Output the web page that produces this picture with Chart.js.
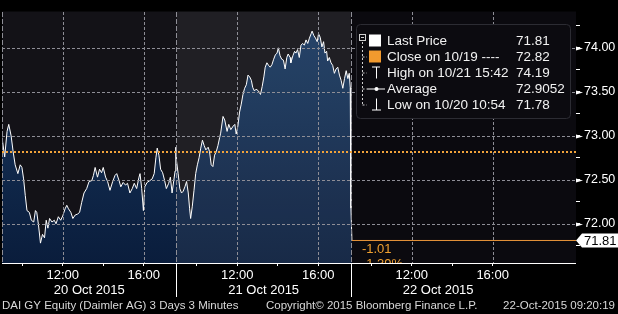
<!DOCTYPE html>
<html>
<head>
<meta charset="utf-8">
<script src="https://cdn.jsdelivr.net/npm/chart.js@4.4.1/dist/chart.umd.min.js"></script>
<style>
  html, body { margin: 0; padding: 0; background: #000; }
  canvas { display: block; }
</style>
</head>
<body>
<canvas id="graph" width="618" height="314"></canvas>
<script>
// one trading session on the axis, 09:00 to about 17:37, in minutes
const DAY_LEN = 517;

const dayLabels = ['20 Oct 2015', '21 Oct 2015', '22 Oct 2015'];
const tickTimes = ['10:00', '12:00', '14:00', '16:00'];
const labeledTimes = ['12:00', '16:00'];
const gridTimes = ['09:00', '12:00', '16:00'];
const priceTicks = [71.75, 72.00, 72.25, 72.50, 72.75, 73.00, 73.25, 73.50, 73.75, 74.00, 74.25];
const gridPrices = [72.00, 72.50, 73.00, 73.50, 74.00];

const day1Times = ['09:00','09:08','09:15','09:20','09:27','09:33','09:39','09:47','09:54','09:59',
  '10:04','10:09','10:14','10:21','10:27','10:34','10:39','10:43','10:48','10:54',
  '11:00','11:06','11:11','11:16','11:21','11:28','11:35','11:40','11:47','11:54',
  '12:00','12:07','12:12','12:17','12:24','12:30','12:37','12:44','12:50','12:56',
  '13:03','13:11','13:18','13:26','13:31','13:36','13:43','13:49','13:55','14:00',
  '14:07','14:13','14:20','14:28','14:35','14:40','14:47','14:52','14:59','15:06',
  '15:12','15:19','15:26','15:32','15:39','15:46','15:49','15:54','15:59','16:03',
  '16:10','16:18','16:25','16:31','16:36','16:40','16:45','16:50','16:56','17:02',
  '17:07','17:14','17:19','17:24','17:29','17:33','17:35'];
const day1Prices = [72.98,72.76,73.05,73.13,73.00,72.82,72.67,72.57,72.67,72.64,
  72.51,72.32,72.15,72.13,72.04,72.02,72.15,72.13,71.99,71.78,
  71.88,71.84,72.04,71.95,72.06,72.02,72.04,72.00,72.08,72.04,
  72.09,72.17,72.21,72.17,72.13,72.06,72.10,72.11,72.13,72.24,
  72.35,72.40,72.48,72.49,72.55,72.64,72.53,72.62,72.58,72.64,
  72.53,72.48,72.38,72.48,72.55,72.57,72.49,72.42,72.47,72.44,
  72.46,72.35,72.40,72.46,72.40,72.53,72.57,72.40,72.15,72.42,
  72.47,72.49,72.51,72.57,72.75,72.86,72.78,72.62,72.58,72.49,
  72.40,72.46,72.53,72.35,72.49,72.60,72.87];

const day2Times = ['09:00','09:05','09:10','09:15','09:20','09:25','09:30','09:35','09:39','09:42',
  '09:47','09:52','09:57','10:02','10:07','10:12','10:17','10:22','10:27','10:34',
  '10:38','10:43','10:48','10:53','10:58','11:03','11:08','11:11','11:18','11:23',
  '11:30','11:35','11:41','11:48','11:53','11:57','12:02','12:07','12:12','12:17',
  '12:22','12:27','12:32','12:37','12:42','12:46','12:51','12:56','13:03','13:09',
  '13:14','13:19','13:23','13:28','13:33','13:38','13:43','13:48','13:53','13:58',
  '14:02','14:07','14:12','14:17','14:22','14:27','14:31','14:37','14:39','14:45',
  '14:50','14:54','14:59','15:04','15:09','15:14','15:19','15:24','15:29','15:34',
  '15:39','15:42','15:47','15:52','15:57','16:01','16:06','16:11','16:16','16:20',
  '16:25','16:28','16:33','16:38','16:43','16:48','16:53','16:58','17:03','17:08',
  '17:13','17:18','17:23','17:28','17:32','17:35'];
const day2Prices = [72.72,72.57,72.40,72.35,72.37,72.42,72.48,72.35,72.17,72.06,
  72.20,72.38,72.57,72.67,72.75,72.86,72.95,72.89,72.84,72.87,
  72.82,72.67,72.65,72.78,72.82,72.89,72.98,73.03,73.22,73.18,
  73.05,73.13,73.07,73.11,73.13,73.02,73.11,73.27,73.36,73.47,
  73.54,73.58,73.69,73.67,73.63,73.55,73.51,73.53,73.51,73.47,
  73.56,73.67,73.78,73.83,73.80,73.78,73.81,73.87,73.92,73.94,
  74.00,73.91,73.87,73.86,73.76,73.89,73.93,73.89,73.83,73.91,
  73.96,73.94,73.98,73.89,74.03,74.05,74.03,74.09,74.05,74.11,
  74.16,74.19,74.14,74.11,74.07,74.16,74.12,74.01,74.07,73.94,
  73.96,73.85,73.89,73.83,73.80,73.71,73.76,73.78,73.69,73.63,
  73.54,73.65,73.74,73.65,73.71,73.55];

const day3Times = ['09:00', '09:03'];
const day3Prices = [72.18, 71.81];

const closePrice = 72.82;
const lastPrice = 71.81;

const legendLabels = ['Last Price', 'Close on 10/19 ----', 'High on 10/21 15:42', 'Average', 'Low on 10/20 10:54'];
const legendValues = ['71.81', '72.82', '74.19', '72.9052', '71.78'];

const footerLeft = 'DAI GY Equity (Daimler AG) 3 Days 3 Minutes';
const footerMid = 'Copyright\u00A9 2015 Bloomberg Finance L.P.';
const footerRight = '22-Oct-2015 09:20:19';

const FONT = '"Liberation Sans", Arial, sans-serif';
const GRID = '#8e8e96';

const mins = t => { const [h, m] = t.split(':').map(Number); return (h - 9) * 60 + m; };
const inDay = v => ((Math.round(v) % DAY_LEN) + DAY_LEN) % DAY_LEN;
const isLabeledPrice = v => Math.round(v * 100) % 50 === 0;

const pricePoints = [];
[[day1Times, day1Prices], [day2Times, day2Prices], [day3Times, day3Prices]].forEach(([times, prices], d) => {
    times.forEach((t, i) => pricePoints.push({ x: d * DAY_LEN + mins(t), y: prices[i] }));
});

const X_MAX = 3 * DAY_LEN + 150;
const lastX = pricePoints[pricePoints.length - 1].x;
const change = lastPrice - closePrice;
const changePct = change / closePrice * 100;

const tickMins = tickTimes.map(mins);
const gridMins = gridTimes.map(mins);

const drawLegend = (ctx) => {
    const bx = 356, by = 24, bw = 214, bh = 94;
    ctx.save();
    ctx.fillStyle = '#0c0b10';
    ctx.strokeStyle = '#2c2c33';
    ctx.lineWidth = 1;
    ctx.beginPath();
    ctx.roundRect(bx + 0.5, by + 0.5, bw, bh, 4);
    ctx.fill();
    ctx.stroke();

    const rowY = i => 40.5 + i * 16;
    // tree lines
    ctx.strokeStyle = '#d0d0d0';
    ctx.strokeRect(359.5, 34.5, 6, 6);
    ctx.beginPath();
    ctx.moveTo(361, 37.5); ctx.lineTo(364, 37.5);
    ctx.stroke();
    ctx.setLineDash([2, 2]);
    ctx.beginPath();
    ctx.moveTo(362.5, 42); ctx.lineTo(362.5, rowY(4));
    for (let i = 1; i < 5; i++) { ctx.moveTo(362.5, rowY(i) + 0.5); ctx.lineTo(367, rowY(i) + 0.5); }
    ctx.stroke();
    ctx.setLineDash([]);

    // icons
    ctx.fillStyle = '#ffffff';
    ctx.fillRect(369, rowY(0) - 6, 12, 12);
    ctx.fillStyle = '#f29a2e';
    ctx.fillRect(369, rowY(1) - 6, 12, 12);
    ctx.strokeStyle = '#ffffff';
    ctx.beginPath();
    let y = rowY(2);
    ctx.moveTo(372, y - 5.5); ctx.lineTo(380, y - 5.5);
    ctx.moveTo(376.5, y - 5.5); ctx.lineTo(376.5, y + 6);
    y = rowY(3);
    ctx.moveTo(367, y + 0.5); ctx.lineTo(385, y + 0.5);
    y = rowY(4);
    ctx.moveTo(376.5, y - 6); ctx.lineTo(376.5, y + 5.5);
    ctx.moveTo(372, y + 5.5); ctx.lineTo(381, y + 5.5);
    ctx.stroke();
    ctx.beginPath();
    ctx.arc(376.5, rowY(3) + 0.5, 2, 0, Math.PI * 2);
    ctx.fillStyle = '#ffffff';
    ctx.fill();

    ctx.font = '13.5px ' + FONT;
    ctx.textBaseline = 'middle';
    ctx.fillStyle = '#f2f2f2';
    legendLabels.forEach((label, i) => {
        ctx.fillText(label, 387, rowY(i) + 1);
        ctx.fillText(legendValues[i], 516, rowY(i) + 1);
    });
    ctx.restore();
};

const bloombergPlugin = {
    id: 'bloomberg',
    beforeDraw(chart) {
        const { ctx, chartArea: a, scales: { x } } = chart;
        ctx.save();
        ctx.fillStyle = '#000';
        ctx.fillRect(0, 0, chart.width, chart.height);
        dayLabels.forEach((_, d) => {
            const x0 = x.getPixelForValue(d * DAY_LEN);
            const x1 = d === dayLabels.length - 1 ? a.right : x.getPixelForValue((d + 1) * DAY_LEN);
            ctx.fillStyle = d === dayLabels.length - 1 ? '#0b0a0f' : '#131217';
            ctx.fillRect(x0, a.top, x1 - x0, a.bottom - a.top);
        });
        ctx.restore();
    },
    afterDatasetsDraw(chart) {
        const { ctx, chartArea: a, scales: { x, y } } = chart;
        ctx.save();
        // lighter band over the middle session
        const x0 = x.getPixelForValue(DAY_LEN);
        const x1 = x.getPixelForValue(2 * DAY_LEN);
        ctx.fillStyle = 'rgba(255,255,255,0.06)';
        ctx.fillRect(x0, a.top, x1 - x0, a.bottom - a.top);

        // dashed grid over the area fill, dashes as 1px rects
        ctx.fillStyle = GRID;
        const top = Math.round(a.top), bottom = Math.round(a.bottom);
        const left = Math.round(a.left), right = Math.round(a.right);
        dayLabels.forEach((_, d) => {
            gridMins.forEach(m => {
                const px = Math.round(x.getPixelForValue(d * DAY_LEN + m));
                const dash = m === 0 ? 5 : 3;
                for (let yy = top; yy < bottom; yy += dash + 2) {
                    ctx.fillRect(px, yy, 1, Math.min(dash, bottom - yy));
                }
            });
        });
        gridPrices.forEach(p => {
            const py = Math.round(y.getPixelForValue(p));
            for (let xx = left; xx < right; xx += 5) {
                ctx.fillRect(xx, py, Math.min(3, right - xx), 1);
            }
        });
        ctx.restore();
    },
    afterDraw(chart) {
        const { ctx, chartArea: a, scales: { x, y } } = chart;
        ctx.save();
        const bottom = Math.round(a.bottom), right = Math.round(a.right);

        // bottom axis line and day separators
        ctx.fillStyle = '#ffffff';
        ctx.fillRect(a.left, bottom, right - a.left, 1);
        for (let d = 1; d < dayLabels.length; d++) {
            const px = Math.round(x.getPixelForValue(d * DAY_LEN));
            ctx.fillRect(px, bottom, 1, 297 - bottom);
        }

        // arrow heads on the labelled price ticks
        y.ticks.forEach(t => {
            if (!isLabeledPrice(t.value)) return;
            const py = Math.round(y.getPixelForValue(t.value)) + 0.5;
            ctx.beginPath();
            ctx.moveTo(right, py - 2);
            ctx.lineTo(right + 7, py);
            ctx.lineTo(right, py + 2);
            ctx.closePath();
            ctx.fill();
        });

        // close line stays on top of the grid
        const cy = Math.round(y.getPixelForValue(closePrice));
        ctx.fillStyle = '#f2a33a';
        for (let xx = Math.round(a.left); xx < right; xx += 4) {
            ctx.fillRect(xx, cy - 1, 2, 2);
        }

        // change labels next to the last price
        const ly = y.getPixelForValue(lastPrice);
        const lx = x.getPixelForValue(lastX);
        ctx.save();
        ctx.beginPath();
        ctx.rect(a.left, a.top, a.right - a.left, a.bottom - a.top);
        ctx.clip();
        ctx.fillStyle = '#f0a030';
        ctx.font = '13px ' + FONT;
        ctx.textBaseline = 'middle';
        ctx.fillText(change.toFixed(2), lx + 10, ly + 9);
        ctx.fillText(changePct.toFixed(2) + '%', lx + 10, ly + 24);
        ctx.restore();

        // last price tag on the axis
        ctx.fillStyle = '#ffffff';
        ctx.beginPath();
        ctx.moveTo(right, ly);
        ctx.lineTo(right + 6, ly - 7);
        ctx.lineTo(chart.width, ly - 7);
        ctx.lineTo(chart.width, ly + 7);
        ctx.lineTo(right + 6, ly + 7);
        ctx.closePath();
        ctx.fill();
        ctx.fillStyle = '#000';
        ctx.font = '13px ' + FONT;
        ctx.textBaseline = 'middle';
        ctx.fillText(lastPrice.toFixed(2), right + 8, ly + 0.5);

        drawLegend(ctx);

        // footer
        ctx.fillStyle = '#d8d8d8';
        ctx.font = '11.5px ' + FONT;
        ctx.textBaseline = 'middle';
        ctx.textAlign = 'left';
        ctx.fillText(footerLeft, 2, 306);
        ctx.fillText(footerMid, 266, 306);
        ctx.textAlign = 'right';
        ctx.fillText(footerRight, 615, 306);
        ctx.restore();
    }
};

const graph = document.getElementById('graph').getContext('2d');

new Chart(graph, {
    type: 'line',
    data: {
        datasets: [{
            label: 'Last',
            data: [{ x: lastX, y: lastPrice }, { x: X_MAX, y: lastPrice }],
            borderColor: '#e8953a',
            borderWidth: 1,
            pointRadius: 0,
            fill: false
        },
        {
            label: 'Last Price',
            data: pricePoints,
            borderColor: '#ffffff',
            borderWidth: 1,
            pointRadius: 0,
            tension: 0,
            fill: 'start',
            backgroundColor: (context) => {
                const { ctx, chartArea } = context.chart;
                if (!chartArea) return '#10264a';
                const g = ctx.createLinearGradient(0, chartArea.top, 0, chartArea.bottom);
                g.addColorStop(0, '#1a3a62');
                g.addColorStop(1, '#0a1d3c');
                return g;
            }
        }]
    },
    options: {
        responsive: false,
        animation: false,
        devicePixelRatio: 1,
        layout: { padding: { left: 0, right: 0, top: 0, bottom: 16 } },
        plugins: { legend: { display: false }, tooltip: { enabled: false } },
        scales: {
            x: {
                type: 'linear',
                position: 'bottom',
                weight: 0,
                min: 0,
                max: X_MAX,
                afterBuildTicks: (scale) => {
                    const ticks = [];
                    dayLabels.forEach((_, d) => {
                        ticks.push({ value: d * DAY_LEN });
                        tickMins.forEach(m => ticks.push({ value: d * DAY_LEN + m }));
                    });
                    scale.ticks = ticks;
                },
                afterFit: (scale) => { scale.height = 17; },
                grid: {
                    drawOnChartArea: false,
                    color: (c) => c.tick && inDay(c.tick.value) !== 0 ? '#ffffff' : 'transparent',
                    tickLength: 3
                },
                border: { display: false },
                ticks: {
                    autoSkip: false,
                    maxRotation: 0,
                    padding: 2,
                    color: '#ffffff',
                    font: { family: FONT, size: 13 },
                    callback: (v) => {
                        const i = labeledTimes.map(mins).indexOf(inDay(v));
                        return i >= 0 ? labeledTimes[i] : '';
                    }
                }
            },
            x2: {
                type: 'linear',
                position: 'bottom',
                weight: 1,
                min: 0,
                max: X_MAX,
                afterBuildTicks: (scale) => {
                    scale.ticks = dayLabels.map((_, d) => ({ value: d * DAY_LEN + DAY_LEN / 2 }));
                },
                afterFit: (scale) => { scale.height = 18; },
                grid: { display: false, drawTicks: false },
                border: { display: false },
                ticks: {
                    autoSkip: false,
                    maxRotation: 0,
                    padding: 3,
                    color: '#ffffff',
                    font: { family: FONT, size: 13 },
                    callback: (v, i) => dayLabels[i]
                }
            },
            y: {
                type: 'linear',
                position: 'right',
                min: 71.554,
                max: 74.413,
                afterBuildTicks: (scale) => { scale.ticks = priceTicks.map(v => ({ value: v })); },
                afterFit: (scale) => { scale.width = 42; },
                grid: {
                    drawOnChartArea: false,
                    color: '#ffffff',
                    tickLength: 4
                },
                border: { display: false },
                ticks: {
                    padding: 4,
                    color: '#ffffff',
                    font: { family: FONT, size: 12.5 },
                    callback: (v) => isLabeledPrice(v) ? v.toFixed(2) : ''
                }
            }
        }
    },
    plugins: [bloombergPlugin]
});
</script>
</body>
</html>
